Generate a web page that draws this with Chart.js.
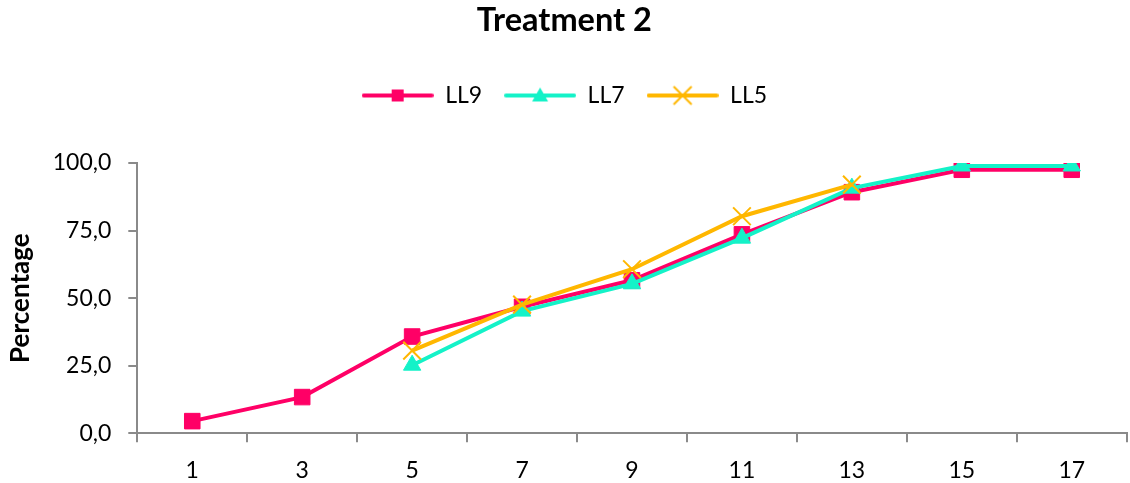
<!DOCTYPE html>
<html>
<head>
<meta charset="utf-8">
<title>Treatment 2</title>
<script src="https://cdn.jsdelivr.net/npm/chart.js@4/dist/chart.umd.min.js"></script>
<style>
  html, body { margin: 0; padding: 0; background: #ffffff; }
  canvas { display: block; }
</style>
</head>
<body>
<canvas id="chart" width="1130" height="483"></canvas>
<script>
// Sampling days
const categories = ['1', '3', '5', '7', '9', '11', '13', '15', '17'];

// Percentages per series (null = not measured)
const ll9 = [4.5, 13.4, 35.8, 46.8, 56.6, 73.6, 89.2, 97.5, 97.5];
const ll7 = [null, null, 25.2, 45.2, 55.3, 72.2, 90.7, 98.9, 98.9];
const ll5 = [null, null, 30.6, 47.6, 60.7, 80.3, 92.0, null, null];

const seriesNames = ['LL9', 'LL7', 'LL5'];
const seriesColors = ['#FF0066', '#14F2C8', '#FFB700'];

// Y axis range and label step
const yMin = 0;
const yMax = 100;
const yStep = 25;

const FONT = 'Lato, "Open Sans", "Liberation Sans", sans-serif';
const AXIS_GREY = '#8a8a8a';

// Legend sample: a short line with the series marker in the middle
function legendIcon(color, marker) {
  const c = document.createElement('canvas');
  c.width = 72;
  c.height = 24;
  const g = c.getContext('2d');
  const cx = 36, cy = 12;
  g.strokeStyle = color;
  g.fillStyle = color;
  g.lineWidth = 4;
  g.lineCap = 'round';
  g.beginPath();
  g.moveTo(2, cy);
  g.lineTo(70, cy);
  g.stroke();
  if (marker === 'rect') {
    g.fillRect(cx - 6, cy - 6, 12, 12);
  } else if (marker === 'triangle') {
    g.beginPath();
    g.moveTo(cx, cy - 8);
    g.lineTo(cx + 8, cy + 6);
    g.lineTo(cx - 8, cy + 6);
    g.closePath();
    g.fill();
  } else {
    g.lineWidth = 2;
    g.lineCap = 'butt';
    g.beginPath();
    g.moveTo(cx - 9, cy - 9);
    g.lineTo(cx + 9, cy + 9);
    g.moveTo(cx + 9, cy - 9);
    g.lineTo(cx - 9, cy + 9);
    g.stroke();
  }
  return c;
}

const legendIcons = [
  legendIcon(seriesColors[0], 'rect'),
  legendIcon(seriesColors[1], 'triangle'),
  legendIcon(seriesColors[2], 'cross')
];

// Empty layout box that keeps a gap between the legend and the plot
const legendGap = {
  id: 'legendGap',
  beforeInit(chart, args, opts) {
    const box = {
      position: 'top',
      weight: 500,
      fullSize: true,
      options: {},
      left: 0, top: 0, right: 0, bottom: 0, width: 0, height: 0,
      isHorizontal() { return true; },
      update(maxWidth) { this.width = maxWidth; this.height = (opts && opts.size) || 46; },
      draw() {}
    };
    Chart.layouts.addBox(chart, box);
  }
};

// Plot edges are set by the layout padding alone, not by label overhang
function noSidePadding(scale) {
  scale.paddingLeft = 0;
  scale.paddingRight = 0;
}

new Chart(document.getElementById('chart'), {
  type: 'line',
  data: {
    labels: categories,
    datasets: [
      {
        label: seriesNames[0],
        data: ll9,
        borderColor: seriesColors[0],
        backgroundColor: seriesColors[0],
        borderWidth: 4,
        pointStyle: 'rect',
        pointRadius: 11,
        pointBorderWidth: 1,
        order: 3
      },
      {
        label: seriesNames[1],
        data: ll7,
        borderColor: seriesColors[1],
        backgroundColor: seriesColors[1],
        borderWidth: 4,
        pointStyle: 'triangle',
        pointRadius: 10,
        pointBorderWidth: 1,
        order: 2
      },
      {
        label: seriesNames[2],
        data: ll5,
        borderColor: seriesColors[2],
        backgroundColor: seriesColors[2],
        borderWidth: 4,
        pointStyle: 'crossRot',
        pointRadius: 12.5,
        pointBorderWidth: 2,
        order: 1
      }
    ]
  },
  options: {
    responsive: false,
    devicePixelRatio: 1,
    animation: false,
    events: [],
    layout: { autoPadding: false, padding: { top: 0, left: 2, right: 3.3, bottom: 0 } },
    elements: { line: { tension: 0, fill: false } },
    plugins: {
      legendGap: { size: 46 },
      title: {
        display: true,
        text: 'Treatment 2',
        color: '#000000',
        font: { family: FONT, size: 32.5, weight: 'bold', lineHeight: 1.2 },
        padding: { top: 1, bottom: 22 }
      },
      legend: {
        display: true,
        position: 'top',
        labels: {
          usePointStyle: true,
          pointStyleWidth: 72,
          padding: 22,
          color: '#000000',
          font: { family: FONT, size: 23 },
          sort: (a, b) => a.datasetIndex - b.datasetIndex,
          generateLabels(chart) {
            const items = Chart.defaults.plugins.legend.labels.generateLabels(chart);
            items.forEach((item) => { item.pointStyle = legendIcons[item.datasetIndex]; });
            return items;
          }
        }
      },
      tooltip: { enabled: false }
    },
    scales: {
      x: {
        type: 'category',
        offset: true,
        afterFit(scale) {
          scale.height = 49.7;
          noSidePadding(scale);
        },
        grid: {
          display: true,
          offset: true,
          drawOnChartArea: false,
          drawTicks: true,
          tickLength: 9,
          color: AXIS_GREY,
          lineWidth: 2
        },
        border: { display: true, color: AXIS_GREY, width: 2 },
        ticks: {
          color: '#000000',
          font: { family: FONT, size: 23 },
          padding: 14,
          maxRotation: 0,
          autoSkip: false
        }
      },
      y: {
        min: yMin,
        max: yMax,
        afterFit(scale) { scale.width = 135.3; },
        grid: {
          display: true,
          drawOnChartArea: false,
          drawTicks: true,
          tickLength: 9,
          color: AXIS_GREY,
          lineWidth: 2
        },
        border: { display: true, color: AXIS_GREY, width: 2 },
        ticks: {
          stepSize: yStep,
          color: '#000000',
          font: { family: FONT, size: 23 },
          padding: 17,
          callback: (v) => v.toFixed(1).replace('.', ',')
        },
        title: {
          display: true,
          text: 'Percentage',
          color: '#000000',
          font: { family: FONT, size: 26, weight: 'bold' },
          padding: { top: 3, bottom: 0 }
        }
      }
    }
  },
  plugins: [legendGap]
});
</script>
</body>
</html>
